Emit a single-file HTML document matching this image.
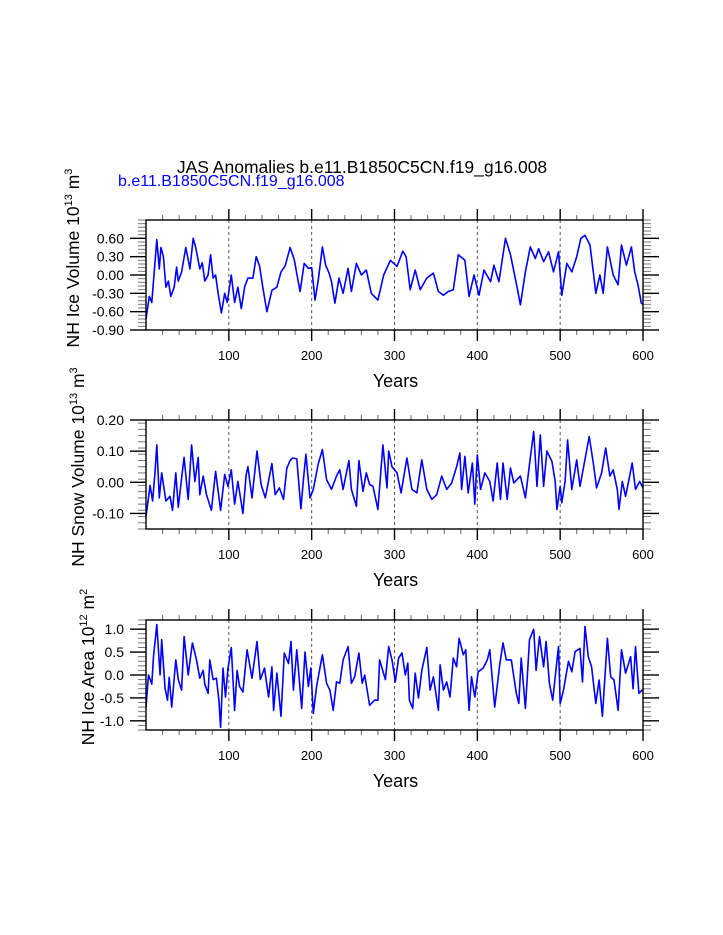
<!DOCTYPE html>
<html><head><meta charset="utf-8"><style>
html,body{margin:0;padding:0;background:#fff}
svg{display:block;font-family:"Liberation Sans",Arial,sans-serif}
</style></head><body>
<svg id="s" width="723" height="935" viewBox="0 0 723 935">
<text x="362" y="173" font-size="17.5" text-anchor="middle" fill="#000">JAS Anomalies b.e11.B1850C5CN.f19_g16.008</text>
<text x="118" y="186" font-size="16" fill="#0000ff">b.e11.B1850C5CN.f19_g16.008</text>
</svg>
<script>
const years1=[0,4,7,13,16,18,21,24,27,30,34,37,39,43,48,51,53,57,60,65,68,71,75,78,81,84,87,91,95,98,103,107,111,115,119,123,129,133,137,141,146,152,158,163,168,174,179,183,186,191,196,200,204,208,213,217,221,224,228,233,238,244,248,254,260,266,272,280,287,295,303,310,314,319,325,331,339,347,353,359,365,371,377,385,390,396,402,408,416,420,426,434,440,449,452,458,464,470,474,480,486,492,498,502,508,514,520,525,530,536,540,543,548,552,557,564,570,574,580,586,590,594,598,600];
const vals1=[-0.72,-0.35,-0.45,0.58,0.1,0.45,0.3,-0.2,-0.1,-0.35,-0.2,0.13,-0.1,0.05,0.45,0.25,0.1,0.6,0.45,0.1,0.2,-0.1,0.0,0.33,-0.05,0.0,-0.3,-0.62,-0.3,-0.45,0.0,-0.45,-0.2,-0.55,-0.2,-0.05,-0.05,0.3,0.15,-0.2,-0.6,-0.25,-0.2,0.05,0.15,0.45,0.25,-0.05,-0.27,0.19,0.11,0.12,-0.41,-0.08,0.46,0.16,0.03,-0.11,-0.46,-0.05,-0.3,0.11,-0.27,0.19,0.0,0.08,-0.3,-0.41,0.0,0.24,0.14,0.39,0.3,-0.24,0.08,-0.24,-0.05,0.03,-0.27,-0.33,-0.27,-0.24,0.33,0.24,-0.35,0.0,-0.33,0.08,-0.11,0.16,-0.11,0.6,0.33,-0.27,-0.49,0.05,0.46,0.27,0.43,0.22,0.38,0.05,0.38,-0.33,0.19,0.05,0.3,0.6,0.65,0.49,0.05,-0.3,0.0,-0.3,0.46,0.0,-0.16,0.49,0.16,0.46,0.05,-0.16,-0.46,-0.48];
const years2=[0,5,8,11,13,16,19,24,29,32,36,39,44,46,51,55,59,63,65,69,73,79,84,90,95,99,103,107,111,117,121,123,128,134,139,144,152,156,161,166,170,174,177,182,187,190,193,198,202,208,213,218,224,230,234,238,245,248,254,257,262,266,270,274,280,286,291,293,297,303,308,315,321,327,333,339,345,351,357,363,369,375,379,381,385,389,394,397,400,404,409,415,419,424,428,431,436,440,444,452,458,464,468,472,476,480,484,490,494,496,500,502,506,509,514,520,524,528,535,540,544,550,555,560,564,569,571,575,579,583,587,591,596,600];
const vals2=[-0.11,-0.01,-0.06,0.035,0.12,-0.05,0.03,-0.06,-0.045,-0.09,0.03,-0.08,0.035,0.08,-0.055,0.12,0.003,0.08,-0.04,0.02,-0.04,-0.09,0.035,-0.09,0.025,-0.013,0.04,-0.07,0.003,-0.1,0.025,0.05,-0.05,0.1,-0.007,-0.05,0.06,-0.04,-0.018,-0.055,0.045,0.07,0.078,0.075,-0.085,0.008,0.09,-0.05,-0.023,0.06,0.105,0.008,-0.023,0.02,0.04,-0.023,0.07,-0.023,-0.077,0.07,-0.029,0.03,-0.007,-0.013,-0.087,0.12,-0.018,0.1,0.05,0.03,-0.034,0.078,-0.023,-0.034,0.072,-0.023,-0.055,-0.04,0.02,-0.023,-0.002,0.05,0.094,-0.023,0.083,-0.034,0.062,-0.07,0.088,-0.023,0.03,0.003,-0.06,0.062,-0.055,0.062,-0.055,0.046,-0.002,0.02,-0.05,0.078,0.163,-0.013,0.152,-0.013,0.1,0.067,0.003,-0.087,-0.013,-0.066,0.003,0.136,-0.023,0.072,-0.013,0.046,0.147,0.062,-0.018,0.03,0.11,0.02,0.04,-0.023,-0.087,0.003,-0.045,0.008,0.062,-0.023,0.003,-0.018];
const years3=[0,3,7,9,13,17,19,23,26,28,31,36,39,43,46,51,56,61,65,69,71,75,77,81,85,88,90,93,96,99,103,107,110,113,117,122,128,134,138,143,148,152,154,158,163,167,172,175,178,182,188,192,196,199,202,206,210,213,218,222,226,230,234,238,244,248,252,257,261,264,270,276,280,282,289,293,297,301,305,309,313,316,318,322,325,329,333,339,343,347,353,355,359,363,367,371,375,378,383,386,390,393,397,401,407,412,415,421,427,431,435,441,447,450,453,458,463,468,471,475,480,483,487,491,498,500,504,510,514,518,524,527,530,534,538,543,547,551,557,561,565,570,574,579,585,588,591,595,599,600];
const vals3=[-0.7,0,-0.2,0.4,1.1,0,0.77,-0.3,-0.55,-0.05,-0.7,0.33,-0.1,-0.33,0.84,0,0.7,0.33,-0.07,0.1,-0.2,-0.4,0.33,-0.1,-0.07,-0.55,-1.14,0.15,-0.48,0.15,0.6,-0.77,0.1,-0.25,-0.37,0.55,-0.07,0.73,-0.1,0.15,-0.48,0.18,-0.77,0.04,-0.9,0.48,0.25,0.73,-0.33,0.55,-0.73,0.5,-0.25,0.15,-0.84,-0.25,0.15,0.44,-0.18,-0.33,-0.77,-0.15,-0.18,0.33,0.62,-0.18,-0.04,0.48,-0.18,0,-0.66,-0.55,-0.55,0.33,-0.1,0.62,0.33,-0.15,0.37,0.48,0,0.26,-0.55,-0.73,0.04,-0.5,0.1,0.6,-0.33,-0.04,-0.77,0.22,-0.33,-0.15,-0.48,0.37,0.18,0.8,0.44,0.55,-0.77,-0.04,-0.48,0.07,0.15,0.33,0.55,-0.7,0.22,0.7,0.33,0.33,-0.4,-0.62,0.37,-0.73,0.77,1.0,0.1,0.84,0.18,0.73,-0.18,-0.55,0.62,-0.62,-0.33,0.3,0.07,0.51,0.58,-0.15,1.06,0.4,0.18,-0.62,-0.11,-0.9,0.8,-0.04,-0.11,-0.77,0.55,0.04,0.4,-0.3,0.62,-0.4,-0.33,-0.35];
const xTicks=[100,200,300,400,500,600];
const yTicks1=[-0.9,-0.6,-0.3,0,0.3,0.6], yLab1=["-0.90","-0.60","-0.30","0.00","0.30","0.60"];
const yTicks2=[-0.1,0,0.1,0.2], yLab2=["-0.10","0.00","0.10","0.20"];
const yTicks3=[-1,-0.5,0,0.5,1], yLab3=["-1.0","-0.5","0.0","0.5","1.0"];

const NS="http://www.w3.org/2000/svg", svg=document.getElementById('s');
function mk(tag,at,parent){const e=document.createElementNS(NS,tag);for(const k in at)e.setAttribute(k,at[k]);(parent||svg).appendChild(e);return e;}
const X0=146,X1=643;
function panel(key,top,bot,ymin,ymax,ys,vs,yt,yl,minorStep,labelParts,labelY){
  const g=mk('g',{});
  
  
  const xs=v=>X0+(v-0)/(600-0)*(X1-X0);
  const yS=v=>bot-(v-ymin)/(ymax-ymin)*(bot-top);
  for(let i=0;i<5;i++){const l=mk('line',{x1:xs(xTicks[i]),x2:xs(xTicks[i]),y1:top,y2:bot,stroke:'#555','stroke-width':1,'stroke-dasharray':'3,3'},g);
    
    }
  for(let v=20;v<600;v+=20){if(v%100===0)continue;
    mk('line',{x1:xs(v),x2:xs(v),y1:top-5,y2:top,stroke:'#666','stroke-width':1},g);
    mk('line',{x1:xs(v),x2:xs(v),y1:bot,y2:bot+5,stroke:'#666','stroke-width':1},g);}
  xTicks.forEach(v=>{mk('line',{x1:xs(v),x2:xs(v),y1:top-11,y2:top,stroke:'#000','stroke-width':1.4},g);
    mk('line',{x1:xs(v),x2:xs(v),y1:bot,y2:bot+11,stroke:'#000','stroke-width':1.4},g);
    const t=mk('text',{x:xs(v),y:bot+30,'font-size':13,'text-anchor':'middle'},g);t.textContent=v;
    
    });
  for(let v=ymin;v<=ymax+1e-9;v+=minorStep){const y=yS(v);
    mk('line',{x1:X0-8,x2:X0,y1:y,y2:y,stroke:'#777','stroke-width':1},g);
    mk('line',{x1:X1,x2:X1+8,y1:y,y2:y,stroke:'#777','stroke-width':1},g);}
  yt.forEach((v,i)=>{const y=yS(v);
    mk('line',{x1:X0-16,x2:X0,y1:y,y2:y,stroke:'#000','stroke-width':1.4},g);
    mk('line',{x1:X1,x2:X1+16,y1:y,y2:y,stroke:'#000','stroke-width':1.4},g);
    const t=mk('text',{x:X0-22,y:y+5,'font-size':14,'text-anchor':'end'},g);t.textContent=yl[i];
    
    });
  const d=ys.map((v,i)=>(i?'L':'M')+xs(v).toFixed(1)+','+yS(vs[i]).toFixed(1)).join('');
  const p=mk('path',{d:d,fill:'none',stroke:'#0000ff','stroke-width':1.6,'stroke-linejoin':'round'},g);
  
  
  const fr=mk('rect',{x:X0,y:top,width:X1-X0,height:bot-top,fill:'none',stroke:'#000','stroke-width':1.4},g);
  
  
  const xt=mk('text',{x:(X0+X1)/2+1,y:bot+57,'font-size':18,'text-anchor':'middle'},g);xt.textContent='Years';
  
  
  const yx=labelParts[3], yc=labelY;
  const yt2=mk('text',{x:0,y:0,'font-size':17.5,'text-anchor':'middle',transform:`translate(${yx},${yc}) rotate(-90)`},g);
  yt2.innerHTML=labelParts[0]+'<tspan dy="-7" font-size="11">'+labelParts[1]+'</tspan><tspan dy="7"> m</tspan><tspan dy="-7" font-size="11">'+labelParts[2]+'</tspan>';
  
  
}
panel('ice-volume',220,330,-0.9,0.9,years1,vals1,yTicks1,yLab1,0.06,['NH Ice Volume 10','13','3',79],258);
panel('snow-volume',420,529,-0.15,0.2,years2,vals2,yTicks2,yLab2,0.02,['NH Snow Volume 10','13','3',84],467);
panel('ice-area',620,730,-1.2,1.2,years3,vals3,yTicks3,yLab3,0.1,['NH Ice Area 10','12','2',94],667);
</script>
</body></html>
